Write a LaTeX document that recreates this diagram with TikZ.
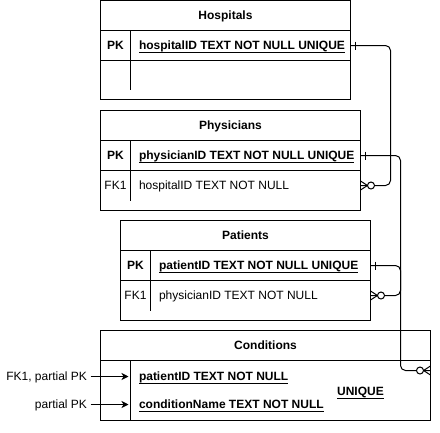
\documentclass[12pt,tikz,border=0pt]{standalone}
\usepackage{fontspec}
\setmainfont{Liberation Sans}
\usetikzlibrary{positioning, calc, arrows.meta}
\tikzset{>={Stealth[length=7pt, width=7pt, inset=2pt]}}
\tikzset{
  cell/.style = {draw, inner sep=0pt, outer sep=0pt, anchor=north west, minimum height=30pt},
  hdr/.style = {cell, font=\bfseries, text height=8.6pt, text depth=0pt},
  txt/.style = {inner sep=0pt, text height=8.6pt, text depth=0pt},
  fld/.style = {txt, anchor=west},
  onemark/.pic = {\draw (5,-4) -- (5,4);},
  zeromany/.pic = {\draw (0,-4.5) -- (7,0) -- (0,4.5); \draw[fill=white] (10.5,0) circle (3.5);}
}
\newcommand{\undl}[1]{\setbox0\hbox{#1}\rlap{\rule[-3pt]{\wd0}{1pt}}\box0}

\begin{document}
\begin{tikzpicture}[x=1pt, y=-1pt, line width=1pt]
\useasboundingbox (0,0) rectangle (440,432);

\node[hdr, minimum width=250pt] (hospHead) at (100.5,0.5) {Hospitals};
\node[cell, minimum width=250pt, below=0pt of hospHead] (hospPK) {};
\node[cell, minimum width=250pt, minimum height=39pt, below=0pt of hospPK] (hospRest) {};
\node[txt, font=\bfseries] (hospKey) at ($(hospPK.west)+(15,0)$) {PK};
\node[fld, font=\bfseries] (hospId) at ($(hospPK.west)+(38,0)$) {\undl{hospitalID TEXT NOT NULL UNIQUE}};
\draw ($(hospPK.north west)+(30,0)$) -- ($(hospRest.south west)+(30,-10)$);

\node[hdr, minimum width=260pt] (physHead) at (100.5,110.5) {Physicians};
\node[cell, minimum width=260pt, below=0pt of physHead] (physPK) {};
\node[cell, minimum width=260pt, minimum height=40pt, below=0pt of physPK] (physFK) {};
\node[txt, font=\bfseries] (physKey) at ($(physPK.west)+(15,0)$) {PK};
\node[fld, font=\bfseries] (physId) at ($(physPK.west)+(38,0)$) {\undl{physicianID TEXT NOT NULL UNIQUE}};
\node[txt] (physFKk) at ($(physFK.north west)+(15,15)$) {FK1};
\node[fld] (physFKt) at ($(physFK.north west)+(38,15)$) {hospitalID TEXT NOT NULL};
\draw ($(physPK.north west)+(30,0)$) -- ($(physFK.south west)+(30,-10)$);

\node[hdr, minimum width=250pt] (patHead) at (120.5,220.5) {Patients};
\node[cell, minimum width=250pt, below=0pt of patHead] (patPK) {};
\node[cell, minimum width=250pt, minimum height=40pt, below=0pt of patPK] (patFK) {};
\node[txt, font=\bfseries] (patKey) at ($(patPK.west)+(15,0)$) {PK};
\node[fld, font=\bfseries] (patId) at ($(patPK.west)+(38,0)$) {\undl{patientID TEXT NOT NULL UNIQUE}};
\node[txt] (patFKk) at ($(patFK.north west)+(15,15)$) {FK1};
\node[fld] (patFKt) at ($(patFK.north west)+(38,15)$) {physicianID TEXT NOT NULL};
\draw ($(patPK.north west)+(30,0)$) -- ($(patFK.south west)+(30,-10)$);

\node[hdr, minimum width=330pt] (condHead) at (100.5,330.5) {Conditions};
\node[cell, minimum width=330pt, minimum height=60pt, below=0pt of condHead] (condBody) {};
\draw ($(condBody.north west)+(30,0)$) -- ($(condBody.south west)+(30,0)$);
\node[fld, font=\bfseries] (condPat) at ($(condBody.north west)+(38,16)$) {\undl{patientID TEXT NOT NULL}};
\node[fld, font=\bfseries] (condName) at ($(condBody.north west)+(38,44)$) {\undl{conditionName TEXT NOT NULL}};
\node[txt, font=\bfseries] (condUniq) at ($(condBody.north west)+(260,31)$) {\undl{UNIQUE}};
\coordinate (tipA) at ($(condBody.north west)+(28,16)$);
\coordinate (tipB) at ($(condBody.north west)+(28,44)$);
\coordinate (condIn) at ($(condBody.north east)+(0,10)$);
\node[txt, anchor=east] (lblA) at ($(tipA)+(-41,0)$) {FK1, partial PK};
\node[txt, anchor=east] (lblB) at ($(tipB)+(-41,0)$) {partial PK};
\draw[->, shorten <=3pt] (lblA) -- (tipA);
\draw[->, shorten <=3pt] (lblB) -- (tipB);

\draw[rounded corners=5pt] (hospPK.east) -- ++(40,0) |- (physFK.east |- physFKt);
\draw[rounded corners=5pt] (physPK.east) -- ++(40,0) |- (patFK.east |- patFKt);
\draw[rounded corners=5pt] (patPK.east) -- ++(30,0) |- (condIn);
\pic at (hospPK.east) {onemark};
\pic at (physPK.east) {onemark};
\pic at (patPK.east) {onemark};
\pic at (physFK.east |- physFKt) {zeromany};
\pic at (patFK.east |- patFKt) {zeromany};
\pic[rotate=180] at (condIn) {zeromany};
\end{tikzpicture}
\end{document}
